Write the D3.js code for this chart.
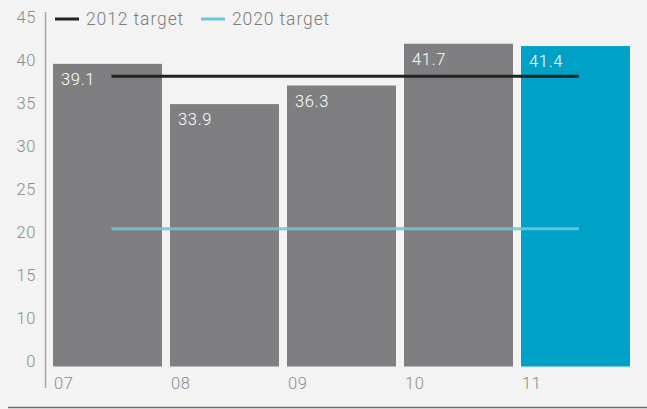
<!DOCTYPE html>
<html>
<head>
<meta charset="utf-8">
<script src="https://cdn.jsdelivr.net/npm/d3@7"></script>
<style>
  html, body { margin: 0; padding: 0; background: #f2f3f2; }
  svg { display: block; font-family: Roboto, "Liberation Sans", sans-serif; font-weight: 300; }
</style>
</head>
<body>
<svg id="chart" width="647" height="409"></svg>
<script>
// Years on the x axis and the value shown for each
const years = ["07", "08", "09", "10", "11"];
const values = [39.1, 33.9, 36.3, 41.7, 41.4];
// Target reference lines
const targetNames = ["2012 target", "2020 target"];
const targetValues = [37.5, 17.8];
// Labels printed along the y axis
const yTickLabels = ["45", "40", "35", "30", "25", "20", "15", "10", "0"];

const barGray = "#7f7f82";
const barTeal = "#00a1c6";
const targetColors = ["#1f2322", "#6ec5da"];
const textGray = "#8c8c8c";

const svg = d3.select("#chart");

const x = d3.scaleBand()
  .domain(years)
  .range([53, 630])
  .paddingInner(8 / 117)
  .paddingOuter(0);

const y = d3.scaleLinear()
  .domain([0, 45])
  .range([366.5, 366.5 - 45 * 7.74]);

// Labels of the value axis, spread evenly along it
const yLabelPos = d3.scalePoint()
  .domain(yTickLabels)
  .range([17, 361]);

// Bottom rule
svg.append("line")
  .attr("x1", 8).attr("x2", 647)
  .attr("y1", 407.5).attr("y2", 407.5)
  .attr("stroke", "#6d6d6d").attr("stroke-width", 1.5);

// Vertical axis line
svg.append("line")
  .attr("x1", 45.5).attr("x2", 45.5)
  .attr("y1", 12).attr("y2", 388)
  .attr("stroke", "#a9a9a9").attr("stroke-width", 1.5);

svg.append("g").selectAll("text")
  .data(yTickLabels)
  .join("text")
  .attr("x", 36)
  .attr("y", d => yLabelPos(d))
  .attr("dy", "0.36em")
  .attr("text-anchor", "end")
  .attr("font-size", 16.5)
  .attr("letter-spacing", 0.6)
  .attr("fill", textGray)
  .text(d => d);

// Bars
svg.append("g").selectAll("rect")
  .data(values)
  .join("rect")
  .attr("x", (d, i) => x(years[i]))
  .attr("width", x.bandwidth())
  .attr("y", d => y(d))
  .attr("height", d => y(0) - y(d))
  .attr("fill", (d, i) => i === values.length - 1 ? barTeal : barGray);

// Year labels under the bars
svg.append("g").selectAll("text")
  .data(years)
  .join("text")
  .attr("x", d => x(d) + 1)
  .attr("y", 383)
  .attr("dy", "0.36em")
  .attr("font-size", 16.5)
  .attr("letter-spacing", 0.6)
  .attr("fill", textGray)
  .text(d => d);

// Target lines, from the middle of the first bar to the middle of the last
const lineStart = x(years[0]) + 58.5;
const lineEnd = x(years[years.length - 1]) + 58;
svg.append("g").selectAll("line")
  .data(targetValues)
  .join("line")
  .attr("x1", lineStart).attr("x2", lineEnd)
  .attr("y1", d => y(d)).attr("y2", d => y(d))
  .attr("stroke", (d, i) => targetColors[i])
  .attr("stroke-width", 3)
  .attr("stroke-opacity", (d, i) => i === 1 ? 0.9 : 1);

// Value labels inside the top of each bar
svg.append("g").selectAll("text")
  .data(values)
  .join("text")
  .attr("x", (d, i) => x(years[i]) + 8)
  .attr("y", d => y(d) + 21)
  .attr("font-size", 16.5)
  .attr("letter-spacing", 0.7)
  .attr("fill", "#ffffff")
  .text(d => d.toFixed(1));

// Legend
const legendX = [55, 201];
const legend = svg.append("g").selectAll("g")
  .data(targetNames)
  .join("g")
  .attr("transform", (d, i) => `translate(${legendX[i]},19)`);
legend.append("line")
  .attr("x1", 0).attr("x2", 24)
  .attr("stroke", (d, i) => targetColors[i])
  .attr("stroke-width", 3);
legend.append("text")
  .attr("x", 31)
  .attr("dy", "0.36em")
  .attr("font-size", 17.5)
  .attr("letter-spacing", 0.9)
  .attr("fill", "#7d7d7d")
  .text(d => d);
</script>
</body>
</html>
